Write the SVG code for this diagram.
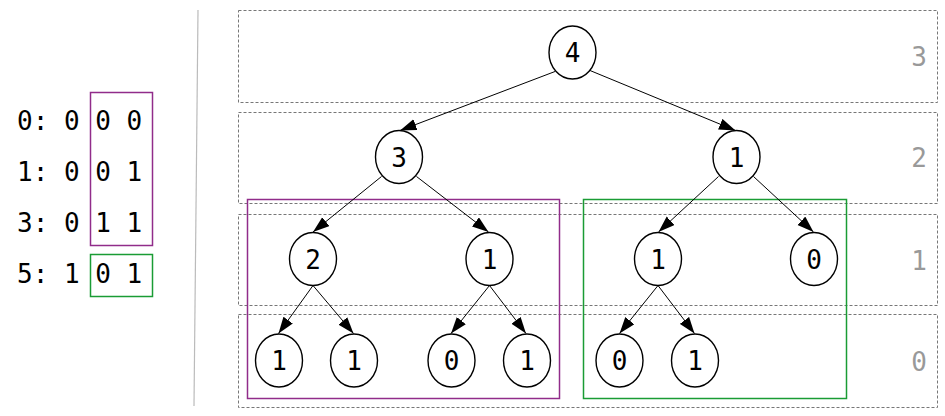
<svg xmlns="http://www.w3.org/2000/svg" width="945" height="416" viewBox="0 0 945 416">
<style>
.lvl{fill:none;stroke:#777;stroke-width:1;stroke-dasharray:3,2}
.node ellipse{fill:#fff;stroke:#000;stroke-width:1.4}
.t{font-family:"DejaVu Sans Mono",monospace;font-size:26px;fill:#000}
.node text{text-anchor:middle}
.lv{font-family:"DejaVu Sans Mono",monospace;font-size:26px;fill:#999;text-anchor:middle}
.e{stroke:#000;stroke-width:1;fill:none;marker-end:url(#ah)}
.pur{fill:none;stroke:#912c8a;stroke-width:1.5}
.grn{fill:none;stroke:#1a9c34;stroke-width:1.5}
</style>
<defs>
<marker id="ah" markerUnits="userSpaceOnUse" markerWidth="17" markerHeight="12" refX="16.5" refY="5.75" orient="auto">
<path d="M0,0 L16.5,5.75 L0,11.5 z" fill="#000"/>
</marker>
</defs>
<rect width="945" height="416" fill="#fff"/>
<line x1="198" y1="10" x2="194" y2="406" stroke="#bbb" stroke-width="1.2"/>
<g id="bits">
<text class="t" x="17" y="130" xml:space="preserve">0: 0 0 0</text>
<text class="t" x="17" y="181" xml:space="preserve">1: 0 0 1</text>
<text class="t" x="17" y="232" xml:space="preserve">3: 0 1 1</text>
<text class="t" x="17" y="283" xml:space="preserve">5: 1 0 1</text>
<rect class="pur" x="90.5" y="92.5" width="62" height="153"/>
<rect class="grn" x="90.5" y="254.5" width="62" height="42"/>
</g>
<g id="levels">
<rect class="lvl" x="238.5" y="10.5" width="699" height="92"/>
<rect class="lvl" x="238.5" y="112.5" width="699" height="91"/>
<rect class="lvl" x="238.5" y="214.5" width="699" height="91"/>
<rect class="lvl" x="238.5" y="314.5" width="699" height="93"/>
<text class="lv" x="919" y="66">3</text>
<text class="lv" x="919" y="167">2</text>
<text class="lv" x="919" y="270">1</text>
<text class="lv" x="919" y="371">0</text>
</g>
<g id="groups">
<rect class="pur" x="247.5" y="199.5" width="312" height="199"/>
<rect class="grn" x="583.5" y="199.5" width="263" height="199"/>
</g>
<g id="edges">
<line class="e" x1="555" y1="71.5" x2="400" y2="130.5"/>
<line class="e" x1="590" y1="70.5" x2="735.5" y2="130.5"/>
<line class="e" x1="381.5" y1="176.5" x2="313" y2="232"/>
<line class="e" x1="416.5" y1="176.5" x2="488.5" y2="232"/>
<line class="e" x1="718.5" y1="176.5" x2="658.5" y2="232"/>
<line class="e" x1="753.5" y1="176.5" x2="813.5" y2="232"/>
<line class="e" x1="313" y1="285.5" x2="278.5" y2="333.5"/>
<line class="e" x1="313" y1="285.5" x2="353.5" y2="333.5"/>
<line class="e" x1="489.5" y1="285.5" x2="451" y2="333.5"/>
<line class="e" x1="489.5" y1="285.5" x2="526" y2="333.5"/>
<line class="e" x1="658" y1="285.5" x2="619.5" y2="333.5"/>
<line class="e" x1="658" y1="285.5" x2="694.5" y2="333.5"/>
</g>
<g id="n4" class="node"><ellipse cx="572.5" cy="52.5" rx="23.5" ry="26.5"/><text class="t" x="572.5" y="62">4</text></g>
<g id="n3" class="node"><ellipse cx="399" cy="157" rx="23.5" ry="26.5"/><text class="t" x="399" y="166.5">3</text></g>
<g id="n1a" class="node"><ellipse cx="736.5" cy="157" rx="23.5" ry="26.5"/><text class="t" x="736.5" y="166.5">1</text></g>
<g id="n2" class="node"><ellipse cx="313" cy="259" rx="23.5" ry="26.5"/><text class="t" x="313" y="268.5">2</text></g>
<g id="n1b" class="node"><ellipse cx="489.5" cy="259" rx="23.5" ry="26.5"/><text class="t" x="489.5" y="268.5">1</text></g>
<g id="n1c" class="node"><ellipse cx="658" cy="259" rx="23.5" ry="26.5"/><text class="t" x="658" y="268.5">1</text></g>
<g id="n0a" class="node"><ellipse cx="814" cy="259" rx="23.5" ry="26.5"/><text class="t" x="814" y="268.5">0</text></g>
<g id="l1" class="node"><ellipse cx="279" cy="360.5" rx="23.5" ry="26.5"/><text class="t" x="279" y="370">1</text></g>
<g id="l2" class="node"><ellipse cx="354" cy="360.5" rx="23.5" ry="26.5"/><text class="t" x="354" y="370">1</text></g>
<g id="l3" class="node"><ellipse cx="451.5" cy="360.5" rx="23.5" ry="26.5"/><text class="t" x="451.5" y="370">0</text></g>
<g id="l4" class="node"><ellipse cx="527" cy="360.5" rx="23.5" ry="26.5"/><text class="t" x="527" y="370">1</text></g>
<g id="l5" class="node"><ellipse cx="619.5" cy="360.5" rx="23.5" ry="26.5"/><text class="t" x="619.5" y="370">0</text></g>
<g id="l6" class="node"><ellipse cx="695" cy="360.5" rx="23.5" ry="26.5"/><text class="t" x="695" y="370">1</text></g>
</svg>
